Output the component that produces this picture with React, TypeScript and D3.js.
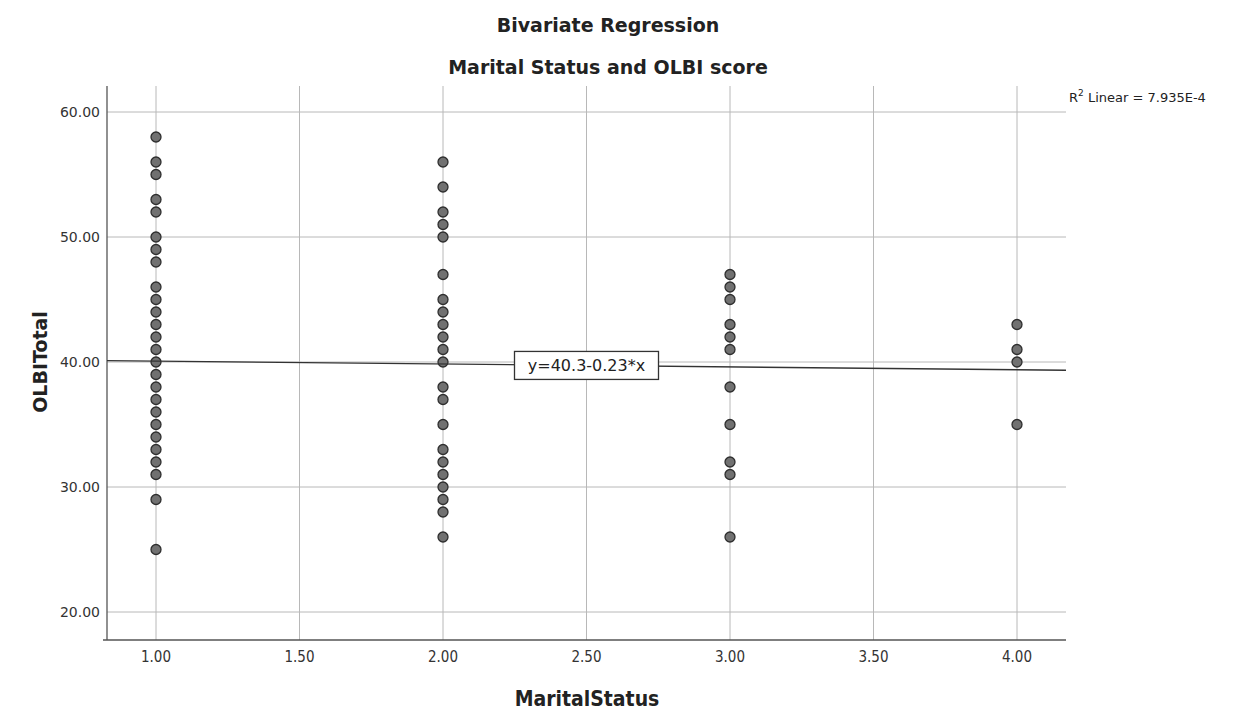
import React from 'react';
import * as d3 from 'd3';

// OLBI scores observed at each marital status value
const status1 = [58, 56, 55, 53, 52, 50, 49, 48, 46, 45, 44, 43, 42, 41, 40, 39, 38, 37, 36, 35, 34, 33, 32, 31, 29, 25];
const status2 = [56, 54, 52, 51, 50, 47, 45, 44, 43, 42, 41, 40, 38, 37, 35, 33, 32, 31, 30, 29, 28, 26];
const status3 = [47, 46, 45, 43, 42, 41, 38, 35, 32, 31, 26];
const status4 = [43, 41, 40, 35];

const xTicks = [1, 1.5, 2, 2.5, 3, 3.5, 4];
const yTicks = [20, 30, 40, 50, 60];

const intercept = 40.3;
const slope = -0.23;

const W = 1239;
const H = 711;
const left = 107, right = 1066, top = 86, bottom = 640;

export default function App() {
  const x = d3.scaleLinear().domain([1, 4]).range([156, 1017]);
  const y = d3.scaleLinear().domain([20, 60]).range([612, 112]);
  const xMin = x.invert(left), xMax = x.invert(right);

  const points = [
    ...status1.map(v => [1, v]),
    ...status2.map(v => [2, v]),
    ...status3.map(v => [3, v]),
    ...status4.map(v => [4, v]),
  ];

  const fit = d3.line<number>().x(d => x(d)).y(d => y(intercept + slope * d));
  const eqX = 2.5;
  const eqY = intercept + slope * eqX;
  const tickFont = "'DejaVu Sans', sans-serif";
  const condFont = "'DejaVu Sans Condensed', 'Liberation Sans Narrow', 'DejaVu Sans', sans-serif";

  return (
    <svg width={W} height={H} style={{ position: 'absolute', left: 0, top: 0, background: '#fff' }}>
      <text x={608} y={32} textAnchor="middle" fontFamily={tickFont} fontWeight="bold" fontSize={19} fill="#222">Bivariate Regression</text>
      <text x={608} y={74} textAnchor="middle" fontFamily={tickFont} fontWeight="bold" fontSize={19} fill="#222">Marital Status and OLBI score</text>

      {/* grid */}
      {yTicks.map(t => (
        <line key={'gy' + t} x1={left} x2={right} y1={y(t)} y2={y(t)} stroke="#b8b8b8" strokeWidth={1} />
      ))}
      {xTicks.map(t => (
        <line key={'gx' + t} x1={x(t)} x2={x(t)} y1={top} y2={bottom} stroke="#b8b8b8" strokeWidth={1} />
      ))}

      {/* axes */}
      <line x1={left} x2={left} y1={top} y2={bottom} stroke="#555" strokeWidth={1.3} />
      <line x1={left - 4} x2={right} y1={bottom} y2={bottom} stroke="#555" strokeWidth={1.3} />

      {yTicks.map(t => (
        <text key={'ty' + t} x={100} y={y(t) + 5} textAnchor="end" fontFamily={tickFont} fontSize={14} fill="#333">{t.toFixed(2)}</text>
      ))}
      {xTicks.map(t => (
        <text key={'tx' + t} x={x(t)} y={662} textAnchor="middle" fontFamily={condFont} fontSize={15} fill="#333">{t.toFixed(2)}</text>
      ))}

      <text x={587} y={706} textAnchor="middle" fontFamily={condFont} fontWeight="bold" fontSize={21} fill="#222">MaritalStatus</text>
      <text transform={`translate(47,362) rotate(-90)`} textAnchor="middle" fontFamily={tickFont} fontWeight="bold" fontSize={19} fill="#222">OLBITotal</text>

      {/* points */}
      {points.map(([px, py], i) => (
        <circle key={i} cx={x(px)} cy={y(py)} r={5} fill="#717171" stroke="#2e2e2e" strokeWidth={1.3} />
      ))}

      {/* fit line */}
      <path d={fit([xMin, xMax]) || ''} fill="none" stroke="#333" strokeWidth={1.4} />

      {/* equation label */}
      <rect x={x(eqX) - 72} y={y(eqY) - 14} width={144} height={28} fill="#fff" stroke="#333" strokeWidth={1.3} />
      <text x={x(eqX)} y={y(eqY) + 6} textAnchor="middle" fontFamily={tickFont} fontSize={16} fill="#222">y=40.3-0.23*x</text>

      <text x={1069} y={102} fontFamily={tickFont} fontSize={13} fill="#222">
        R<tspan dy={-6} fontSize={9}>2</tspan><tspan dy={6}> Linear = 7.935E-4</tspan>
      </text>
    </svg>
  );
}
